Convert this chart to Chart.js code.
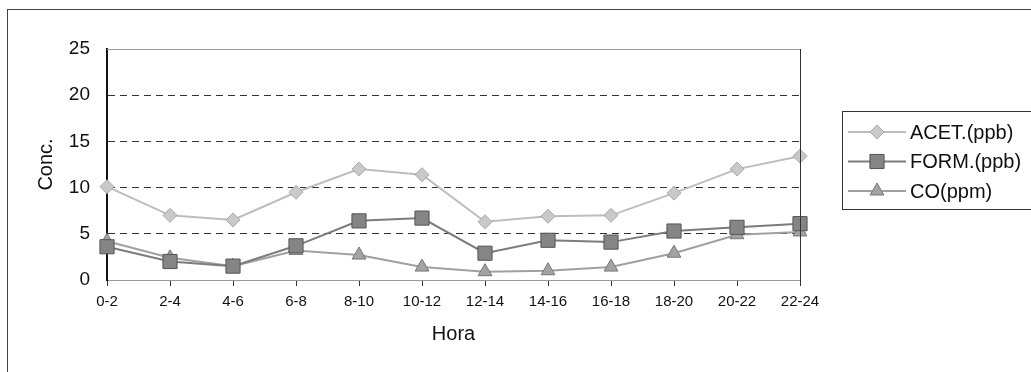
<!DOCTYPE html>
<html>
<head>
<meta charset="utf-8">
<script src="https://cdn.jsdelivr.net/npm/chart.js@4/dist/chart.umd.min.js"></script>
<style>
  body { margin: 0; background: #fff; }
  canvas { display: block; }
</style>
</head>
<body>
<canvas id="grafico" width="1031" height="372"></canvas>
<script>
// datos
const horas = ['0-2', '2-4', '4-6', '6-8', '8-10', '10-12', '12-14', '14-16', '16-18', '18-20', '20-22', '22-24'];
const acet = [10.1, 7.0, 6.5, 9.5, 12.0, 11.4, 6.3, 6.9, 7.0, 9.4, 12.0, 13.4];
const form = [3.6, 2.0, 1.5, 3.7, 6.4, 6.7, 2.9, 4.3, 4.1, 5.3, 5.7, 6.1];
const co = [4.2, 2.4, 1.5, 3.2, 2.7, 1.4, 0.9, 1.0, 1.4, 2.9, 4.9, 5.2];
const yTicks = [0, 5, 10, 15, 20, 25];

const fuente = 'Arial, "Liberation Sans", sans-serif';

// marco exterior, borde del área y leyenda
const marco = {
    id: 'marco',
    beforeDraw(chart) {
        const ctx = chart.ctx;
        ctx.save();
        ctx.strokeStyle = '#444';
        ctx.lineWidth = 1;
        ctx.strokeRect(7.5, 9.5, 1040, 380);
        ctx.restore();
    },
    afterDatasetsDraw(chart) {
        const ctx = chart.ctx;
        const a = chart.chartArea;
        ctx.save();
        ctx.lineWidth = 1;
        ctx.strokeStyle = '#999';
        ctx.beginPath();
        ctx.moveTo(a.left, a.top + 0.5);
        ctx.lineTo(a.right, a.top + 0.5);
        ctx.stroke();
        ctx.strokeStyle = '#333';
        ctx.beginPath();
        ctx.moveTo(a.right + 0.5, a.top);
        ctx.lineTo(a.right + 0.5, a.bottom + 6);
        ctx.stroke();

        // leyenda
        const lx = 842, ly = 111;
        ctx.strokeStyle = '#333';
        ctx.strokeRect(lx + 0.5, ly + 0.5, 200, 98);
        ctx.font = '20px ' + fuente;
        ctx.textBaseline = 'middle';
        ctx.fillStyle = '#111';
        chart.data.datasets.forEach((ds, i) => {
            const y = 132 + i * 29.5;
            ctx.strokeStyle = ds.borderColor;
            ctx.lineWidth = 2;
            ctx.beginPath();
            ctx.moveTo(848, y);
            ctx.lineTo(906, y);
            ctx.stroke();
            ctx.fillStyle = ds.pointBackgroundColor;
            ctx.strokeStyle = ds.pointBorderColor;
            ctx.lineWidth = 1;
            Chart.helpers.drawPoint(ctx, { pointStyle: ds.pointStyle, radius: ds.pointRadius, rotation: 0, borderWidth: 1 }, 877, y);
            ctx.fillStyle = '#111';
            ctx.fillText(ds.label, 910, y + 1);
        });
        ctx.restore();
    }
};

new Chart(document.getElementById('grafico').getContext('2d'), {
    type: 'line',
    data: {
        labels: horas,
        datasets: [{
            label: 'ACET.(ppb)',
            data: acet,
            borderColor: '#bdbdbd',
            borderWidth: 2,
            pointStyle: 'rectRot',
            pointRadius: 7,
            pointBackgroundColor: '#c9c9c9',
            pointBorderColor: '#a8a8a8',
            pointBorderWidth: 1
        }, {
            label: 'FORM.(ppb)',
            data: form,
            borderColor: '#7c7c7c',
            borderWidth: 2,
            pointStyle: 'rect',
            pointRadius: 10,
            pointBackgroundColor: '#858585',
            pointBorderColor: '#555',
            pointBorderWidth: 1
        }, {
            label: 'CO(ppm)',
            data: co,
            borderColor: '#a0a0a0',
            borderWidth: 2,
            pointStyle: 'triangle',
            pointRadius: 8,
            pointBackgroundColor: '#a3a3a3',
            pointBorderColor: '#777',
            pointBorderWidth: 1
        }]
    },
    options: {
        responsive: false,
        animation: false,
        layout: { padding: { top: 49, right: 231, left: 0, bottom: 0 } },
        plugins: { legend: { display: false }, tooltip: { enabled: false } },
        scales: {
            x: {
                offset: false,
                afterFit(s) { s.height = 92; },
                grid: { drawOnChartArea: false, drawTicks: true, tickLength: 6, color: '#333' },
                border: { color: '#999', width: 1 },
                ticks: { color: '#111', font: { size: 15, family: fuente }, padding: 7, maxRotation: 0, autoSkip: false },
                title: { display: true, text: 'Hora', color: '#111', font: { size: 20, family: fuente }, padding: { top: 0, bottom: 26 } }
            },
            y: {
                min: 0,
                max: 25,
                afterFit(s) { s.width = 107; },
                afterBuildTicks(s) { s.ticks = yTicks.map(v => ({ value: v })); },
                grid: {
                    drawTicks: false,
                    color: ctx => (ctx.tick.value === 0 || ctx.tick.value === 25) ? 'rgba(0,0,0,0)' : '#333',
                    lineWidth: 1
                },
                border: { color: '#111', width: 2, dash: [7, 5] },
                ticks: { color: '#111', font: { size: 19, family: fuente }, padding: 17 },
                title: { display: true, text: 'Conc.', color: '#111', font: { size: 20, family: fuente }, padding: { top: 34, bottom: 0 } }
            }
        }
    },
    plugins: [marco]
});
</script>
</body>
</html>
